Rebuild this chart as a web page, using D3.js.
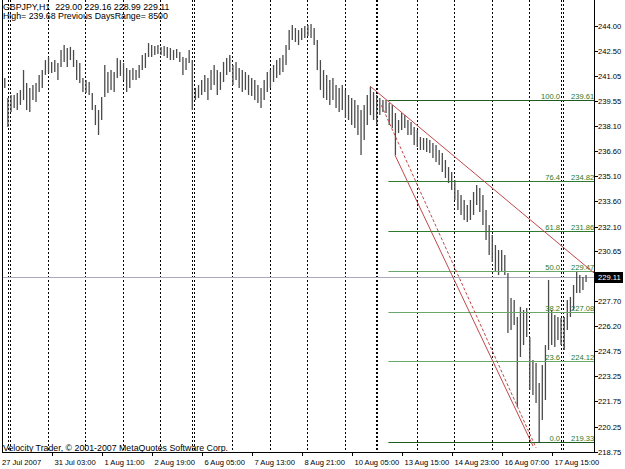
<!DOCTYPE html>
<html>
<head>
<meta charset="utf-8">
<script src="https://cdn.jsdelivr.net/npm/d3@7"></script>
<style>
body { margin: 0; background: #fff; }
text { font-family: "Liberation Sans", Arial, sans-serif; }
</style>
</head>
<body>
<svg id="chart" width="625" height="469"></svg>
<script>
// 2-hour bars (GBPJPY)
var highs = [240.92,239.73,239.91,239.91,240.03,240.21,241.39,240.62,240.33,240.50,
  240.62,241.10,241.39,241.98,242.16,241.87,241.98,241.81,242.58,242.87,
  242.70,242.76,242.58,241.98,241.81,240.92,240.80,240.68,240.03,239.32,
  239.02,239.79,241.69,241.27,241.39,241.27,242.10,241.98,241.81,241.51,
  241.39,241.51,241.39,241.69,242.28,242.40,242.99,242.87,242.81,242.87,
  242.76,242.81,242.76,242.70,242.58,242.64,242.46,242.16,242.10,242.58,
  241.98,240.33,240.50,240.80,241.10,240.92,241.39,241.69,241.39,241.27,
  241.87,242.10,242.28,241.69,241.87,241.51,241.39,241.27,241.10,240.92,
  240.80,240.50,240.33,240.80,241.27,241.39,241.69,241.98,242.10,242.28,
  242.87,243.76,244.06,243.88,243.76,243.88,244.00,244.06,244.12,243.88,
  243.17,241.98,241.39,241.10,240.80,240.92,240.50,240.33,240.50,240.21,
  239.91,239.73,239.61,239.32,239.02,239.32,239.91,240.38,240.09,239.91,
  239.73,239.61,239.61,239.44,239.32,238.84,238.43,238.84,238.72,238.43,
  238.31,238.01,237.84,237.42,237.36,237.36,237.24,237.07,236.95,236.65,
  236.47,236.06,235.64,235.35,234.87,234.28,233.98,233.69,233.39,233.69,
  234.16,234.58,234.40,233.98,233.09,232.21,231.61,231.02,230.72,230.72,
  230.43,229.36,227.88,227.76,226.75,227.35,227.17,227.29,225.57,224.20,
  224.03,222.84,223.91,225.09,228.95,227.17,226.87,226.75,226.69,226.75,
  227.76,227.94,228.65,229.42,229.24,229.12,229.24];
var lows = [240.33,238.01,238.90,239.14,239.02,239.32,239.61,239.02,238.90,239.61,
  239.50,240.09,240.33,241.10,241.21,241.21,241.27,240.80,241.57,241.87,
  241.57,241.98,241.57,240.80,240.62,240.09,240.03,239.91,239.02,238.13,
  237.54,238.43,239.79,240.03,240.21,240.09,240.92,241.04,240.80,240.09,
  240.33,240.80,240.80,240.92,241.39,241.51,242.16,242.16,242.28,242.34,
  242.28,242.22,242.10,241.98,241.98,242.10,241.87,241.10,241.39,241.81,
  239.02,239.61,239.73,239.91,240.09,239.61,240.21,240.50,239.91,240.21,
  240.68,241.10,241.27,240.50,240.80,240.33,240.09,240.21,239.91,239.85,
  239.61,239.44,239.14,239.61,240.09,240.33,240.68,240.92,241.10,241.27,
  241.69,242.58,243.17,243.05,242.87,243.17,243.29,243.41,243.29,242.87,
  241.39,240.21,239.73,239.61,239.32,239.61,239.14,238.90,239.02,238.55,
  238.43,238.13,237.95,237.54,236.35,237.24,238.13,238.72,238.43,238.13,
  238.72,238.90,238.84,238.13,237.95,236.35,237.66,237.84,237.95,237.54,
  237.54,236.95,236.83,236.65,236.65,236.53,236.47,236.18,235.94,235.76,
  235.35,234.99,234.69,234.28,233.69,233.09,232.80,232.50,232.38,232.50,
  232.80,233.39,232.98,232.21,231.32,230.43,230.01,229.42,229.24,229.42,
  229.24,225.80,225.98,226.28,221.42,224.38,225.09,225.57,222.43,222.13,
  221.66,219.33,220.65,221.83,224.80,225.09,224.97,225.39,225.09,224.80,
  225.98,226.75,227.17,228.17,228.17,228.35,228.83];

var priceTicks = [244.00, 242.50, 241.05, 239.55, 238.10, 236.60, 235.10, 233.60, 232.10,
  230.65, 227.70, 226.20, 224.75, 223.25, 221.75, 220.25, 218.75];
var timeLabels = ["27 Jul 2007", "31 Jul 03:00", "1 Aug 11:00", "2 Aug 19:00", "6 Aug 05:00",
  "7 Aug 13:00", "8 Aug 21:00", "10 Aug 05:00", "13 Aug 15:00", "14 Aug 23:00",
  "16 Aug 07:00", "17 Aug 15:00"];
var timeLabelBars = [-2.6, 31, 63, 95, 127, 159, 191, 223, 255, 287, 319, 351];
var separatorBars = [2.5, 4, 28, 52, 76, 100, 120, 121.5, 146, 170, 194, 218, 238, 239,
  264, 288, 312, 336, 356.5, 358];

var fibLevels = [100.0, 76.4, 61.8, 50.0, 38.2, 23.6, 0.0];
var fibHigh = 239.61, fibLow = 219.33, fibStartBar = 246;
var lastPrice = 229.11;
var upperLine = [[234.2, 240.44], [377.6, 229.36]];
var lowerLine = [[250.2, 236.35], [338.6, 219.10]];
var midLine = [[241.5, 239.30], [340.5, 219.00]];

var headerLines = ["GBPJPY,H1  229.00 229.16 228.99 229.11",
  "High= 239.68 Previous DaysRange= 8500"];
var copyright = "Velocity Trader, \u00a9 2001-2007 MetaQuotes Software Corp.";

var svg = d3.select("#chart");
var left = 2, right = 594, bottom = 452;

var x = d3.scaleLinear().domain([0, 374]).range([4, 588.4]);
var y = d3.scaleLinear().domain([218.75, 244.00]).range([452, 26]);

// period separators
svg.append("g").selectAll("line").data(separatorBars).join("line")
  .attr("x1", function(d) { return Math.round(x(d)) + 0.5; })
  .attr("x2", function(d) { return Math.round(x(d)) + 0.5; })
  .attr("y1", 0).attr("y2", bottom)
  .attr("stroke", "#000").attr("stroke-dasharray", "2,2");

// bid line
svg.append("line")
  .attr("x1", left).attr("x2", right)
  .attr("y1", Math.round(y(lastPrice)) + 0.5).attr("y2", Math.round(y(lastPrice)) + 0.5)
  .attr("stroke", "#a9a9bb");

// bars
svg.append("g").selectAll("line").data(highs).join("line")
  .attr("x1", function(d, i) { return x(2 * i + 0.5); })
  .attr("x2", function(d, i) { return x(2 * i + 0.5); })
  .attr("y1", function(d) { return y(d); })
  .attr("y2", function(d, i) { return y(lows[i]); })
  .attr("stroke", "#4a4a4a").attr("stroke-width", 1.3);

// fibonacci retracement
var fib = svg.append("g");
fibLevels.forEach(function(lv) {
  var p = fibLow + (fibHigh - fibLow) * lv / 100;
  var yy = Math.round(y(p)) + 0.5;
  fib.append("line")
    .attr("x1", x(fibStartBar)).attr("x2", right)
    .attr("y1", yy).attr("y2", yy)
    .attr("stroke", (lv == 100 || lv == 0) ? "#1f5a1f" : (lv == 76.4 || lv == 61.8) ? "#2f7a2f" : "#68a868");
  fib.append("text").attr("x", 560).attr("y", yy - 2)
    .attr("text-anchor", "end").attr("font-size", 7.6).attr("fill", "#2a7a2a")
    .text(lv.toFixed(1));
  fib.append("text").attr("x", 571).attr("y", yy - 2)
    .attr("font-size", 7.6).attr("fill", "#2a7a2a")
    .text(p.toFixed(2));
});

// trend lines
function seg(pts, dash) {
  svg.append("line")
    .attr("x1", x(pts[0][0])).attr("y1", y(pts[0][1]))
    .attr("x2", x(pts[1][0])).attr("y2", y(pts[1][1]))
    .attr("stroke", "#c04848").attr("stroke-width", 1)
    .attr("stroke-dasharray", dash ? "3,2" : null);
}
seg(upperLine, false);
seg(lowerLine, false);
seg(midLine, true);

// frame
svg.append("line").attr("x1", left + 0.5).attr("x2", left + 0.5).attr("y1", 0).attr("y2", bottom)
  .attr("stroke", "#000");
svg.append("line").attr("x1", right + 0.5).attr("x2", right + 0.5).attr("y1", 0).attr("y2", bottom + 0.5)
  .attr("stroke", "#000");
svg.append("line").attr("x1", left).attr("x2", right + 1).attr("y1", bottom + 0.5).attr("y2", bottom + 0.5)
  .attr("stroke", "#000");

// price axis
var pa = svg.append("g");
pa.selectAll("line").data(priceTicks).join("line")
  .attr("x1", right).attr("x2", right + 4)
  .attr("y1", function(d) { return Math.round(y(d)) + 0.5; })
  .attr("y2", function(d) { return Math.round(y(d)) + 0.5; })
  .attr("stroke", "#000");
pa.selectAll("text").data(priceTicks).join("text")
  .attr("x", 598).attr("y", function(d) { return y(d) + 3; })
  .attr("font-size", 7.6).attr("fill", "#000")
  .text(function(d) { return d.toFixed(2); });

// current price box
svg.append("rect").attr("x", 595).attr("y", Math.round(y(lastPrice)) - 5)
  .attr("width", 28).attr("height", 11).attr("fill", "#000");
svg.append("text").attr("x", 598).attr("y", y(lastPrice) + 3)
  .attr("font-size", 7.6).attr("fill", "#fff").text(lastPrice.toFixed(2));

// time axis
var ta = svg.append("g");
ta.selectAll("line").data(timeLabelBars.slice(1)).join("line")
  .attr("x1", function(d) { return Math.round(x(d)) + 0.5; })
  .attr("x2", function(d) { return Math.round(x(d)) + 0.5; })
  .attr("y1", bottom).attr("y2", bottom + 4)
  .attr("stroke", "#000");
ta.selectAll("text").data(timeLabels).join("text")
  .attr("x", function(d, i) { return x(timeLabelBars[i]) + 2; })
  .attr("y", 465)
  .attr("font-size", 7.6).attr("fill", "#000")
  .text(function(d) { return d; });

// header and copyright
svg.selectAll("text.hdr").data(headerLines).join("text").attr("class", "hdr")
  .attr("x", 3).attr("y", function(d, i) { return 10 + i * 9; })
  .attr("font-size", 8.8).attr("fill", "#000")
  .attr("xml:space", "preserve").style("white-space", "pre")
  .text(function(d) { return d; });
svg.append("text").attr("x", 3).attr("y", 451)
  .attr("font-size", 8.8).attr("fill", "#000").text(copyright);
</script>
</body>
</html>
